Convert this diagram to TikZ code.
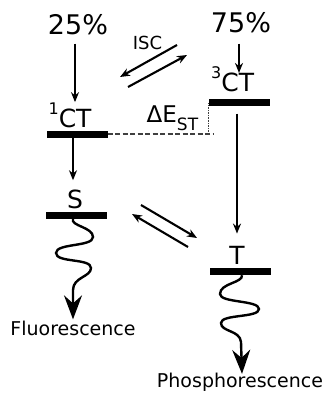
\documentclass[tikz,border=0pt]{standalone}
\usepackage{fontspec}
\setmainfont{DejaVu Sans}
\usetikzlibrary{arrows.meta,calc}
\newcommand\supnum[1]{\raisebox{13pt}{\fontsize{16}{16}\selectfont #1}}
\begin{document}
\begin{tikzpicture}[x=1pt,y=-1pt,
  big/.style={inner sep=0pt, font=\fontsize{27}{27}\selectfont},
  mid/.style={inner sep=0pt, font=\fontsize{25}{25}\selectfont},
  small/.style={inner sep=0pt, font=\fontsize{19}{19}\selectfont},
  iscfont/.style={inner sep=0pt, font=\fontsize{18}{18}\selectfont},
  levelbar/.style={fill=black, inner sep=0pt, minimum width=61pt, minimum height=7pt},
  arr/.style={line width=2.1pt, -{Stealth[length=10pt,width=8pt]}},
  wave/.style={line width=2.4pt, -{Stealth[length=24pt,width=18pt,inset=8pt]}},
  dashline/.style={line width=1.7pt, draw=black!75, dash pattern=on 5pt off 2.5pt},
  dotline/.style={line width=1.2pt, draw=black!75, dash pattern=on 1.5pt off 1pt}]
\useasboundingbox (0,0) rectangle (326,393);
% level bars
\node[levelbar] (b1) at (77,134) {};
\node[levelbar] (b3) at (239.5,103) {};
\node[levelbar] (bs) at (76.5,215) {};
\node[levelbar] (bt) at (240.5,271.5) {};
% labels
\node[big, anchor=base] (p25) at (78,35) {25\%};
\node[big, anchor=base] (p75) at (241,33) {75\%};
\node[mid, anchor=base west] (c1) at (48.4,127) {\supnum{1}CT};
\node[mid, anchor=base west] (c3) at (211,92) {\supnum{3}CT};
\node[mid, anchor=base] (s) at (75,208) {S};
\node[mid, anchor=base] (t) at (237,264) {T};
\node[iscfont, anchor=base] (isc) at (147.5,50) {ISC};
\node[inner sep=0pt, anchor=base west] (de) at (146.5,122)
  {\fontsize{23}{23}\selectfont ΔE\raisebox{-8pt}{\fontsize{17}{17}\selectfont ST}};
\node[small, anchor=base] (fl) at (73,335) {Fluorescence};
\node[small, anchor=base] (ph) at (240,387.5) {Phosphorescence};
% vertical arrows
\coordinate (a1) at ($(p25.south)+(-3,8)$);
\draw[arr] (a1) -- (a1 |- c1.north);
\coordinate (a2) at ($(p75.south)+(-2,10)$);
\draw[arr] (a2) -- ($(a2 |- c3.north)+(0,6)$);
\coordinate (a3) at ($(b1.south)+(-4,0)$);
\draw[arr] (a3) -- ($(s.north)+(-2,-9)$);
\coordinate (a4) at ($(b3.south)+(-2.5,7)$);
\draw[arr] (a4) -- ($(t.north)+(0,-12)$);
% ISC equilibrium arrows (top)
\coordinate (i1s) at (177,45);
\coordinate (i1e) at (120,77);
\coordinate (i2s) at (128,87);
\coordinate (i2e) at (187,55);
\draw[arr] (i1s) -- (i1e);
\draw[arr] (i2s) -- (i2e);
% S <-> T equilibrium arrows
\coordinate (j1s) at (141,205);
\coordinate (j1e) at (197,238);
\coordinate (j2s) at (188,247);
\coordinate (j2e) at (132,214);
\draw[arr] (j1s) -- (j1e);
\draw[arr] (j2s) -- (j2e);
% Delta E_ST guide lines
\coordinate (d1) at (b1.east -| b3.west);
\draw[dashline] (b1.east) -- ($(d1)+(4,0)$);
\draw[dotline] (d1) -- (b3.west);
% fluorescence wave
\coordinate (ws) at ($(bs.south)+(-3.5,0)$);
\draw[wave] (ws) .. controls (70,226) and (93,227) .. (93,237)
  .. controls (93,247) and (56,243) .. (56,253)
  .. controls (56,263) and (91,258) .. (91,268)
  .. controls (91,277) and (73,277) .. (73,290)
  -- ($(fl.north)+(0,-1)$);
% phosphorescence wave
\coordinate (wt) at ($(bt.south)+(1.5,0)$);
\draw[wave] (wt) .. controls (243,283) and (220,283) .. (220,294)
  .. controls (220,303) and (259,300) .. (259,309)
  .. controls (259,318) and (221,314) .. (221,323)
  .. controls (221,332) and (240,330) .. (241,342)
  -- ($(ph.north)+(2,1)$);
\end{tikzpicture}
\end{document}
